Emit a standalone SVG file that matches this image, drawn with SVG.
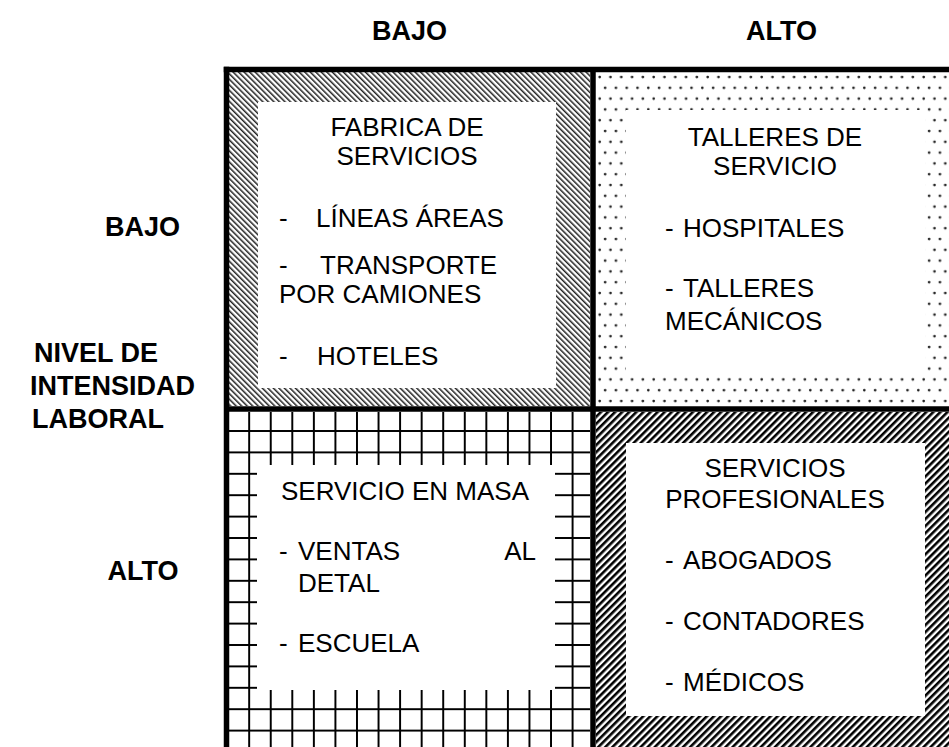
<svg xmlns="http://www.w3.org/2000/svg" width="949" height="747" viewBox="0 0 949 747">
<style>
.h{font-family:"Liberation Sans",Arial,sans-serif;font-size:27px;font-weight:bold;fill:#000}
.t{font-family:"Liberation Sans",Arial,sans-serif;font-size:26px;fill:#000}
.c{text-anchor:middle}
.frame{stroke:#000;stroke-width:5.5;fill:none}
.box{fill:#fff}
</style>
<defs>
<pattern id="hatchTL" patternUnits="userSpaceOnUse" width="3.9" height="20" patternTransform="rotate(-45)">
<rect x="0" y="0" width="3.9" height="20" fill="#fff"/>
<rect x="0" y="0" width="1.5" height="20" fill="#222"/>
</pattern>
<pattern id="hatchBR" patternUnits="userSpaceOnUse" width="5" height="20" patternTransform="rotate(45)">
<rect x="0" y="0" width="5" height="20" fill="#fff"/>
<rect x="0" y="0" width="2.6" height="20" fill="#000"/>
</pattern>
<pattern id="dots" patternUnits="userSpaceOnUse" x="597" y="74" width="10.8" height="21.6">
<rect x="0" y="0" width="10.8" height="21.6" fill="#fff"/>
<circle cx="2.7" cy="3" r="1.35" fill="#222"/>
<circle cx="8.1" cy="13.8" r="1.35" fill="#222"/>
</pattern>
<pattern id="grid" patternUnits="userSpaceOnUse" x="238.4" y="420.3" width="21.56" height="21.4">
<rect x="0" y="0" width="21.56" height="21.4" fill="#fff"/>
<line x1="10.78" y1="0" x2="10.78" y2="21.4" stroke="#000" stroke-width="2"/>
<line x1="0" y1="10.7" x2="21.56" y2="10.7" stroke="#000" stroke-width="2"/>
</pattern>
</defs>
<rect width="949" height="747" fill="#fff"/>

<g id="headers">
<text class="h c" x="409.5" y="40">BAJO</text>
<text class="h c" x="781.5" y="40">ALTO</text>
<text class="h c" x="142.5" y="236">BAJO</text>
<text class="h" x="34" y="362">NIVEL DE</text>
<text class="h" x="30" y="395">INTENSIDAD</text>
<text class="h" x="32" y="428">LABORAL</text>
<text class="h c" x="143" y="580">ALTO</text>
</g>

<g id="q-tl">
<rect x="229" y="72" width="361" height="334" fill="url(#hatchTL)"/>
<rect class="box" x="258" y="102" width="298" height="286"/>
<text class="t c" x="407" y="136">FABRICA DE</text>
<text class="t c" x="407" y="165">SERVICIOS</text>
<text class="t" x="279" y="227">-</text>
<text class="t" x="316" y="227">LÍNEAS ÁREAS</text>
<text class="t" x="279" y="274">-</text>
<text class="t" x="320" y="274">TRANSPORTE</text>
<text class="t" x="279" y="303">POR CAMIONES</text>
<text class="t" x="279" y="365">-</text>
<text class="t" x="317" y="365">HOTELES</text>
</g>

<g id="q-tr">
<rect x="596" y="72" width="353" height="334" fill="url(#dots)"/>
<rect class="box" x="626" y="110" width="299" height="263"/>
<text class="t c" x="775" y="146">TALLERES DE</text>
<text class="t c" x="775" y="175">SERVICIO</text>
<text class="t" x="665" y="237">-</text>
<text class="t" x="683" y="237">HOSPITALES</text>
<text class="t" x="665" y="297">-</text>
<text class="t" x="683" y="297">TALLERES</text>
<text class="t" x="665" y="330">MECÁNICOS</text>
</g>

<g id="q-bl">
<rect x="229" y="412" width="361" height="335" fill="url(#grid)"/>
<rect class="box" x="257" y="465" width="298" height="225"/>
<text class="t" x="281" y="500">SERVICIO EN MASA</text>
<text class="t" x="279" y="560">-</text>
<text class="t" x="298" y="560">VENTAS</text>
<text class="t" x="536" y="560" text-anchor="end">AL</text>
<text class="t" x="298" y="592">DETAL</text>
<text class="t" x="279" y="652">-</text>
<text class="t" x="298" y="652">ESCUELA</text>
</g>

<g id="q-br">
<rect x="596" y="412" width="353" height="335" fill="url(#hatchBR)"/>
<rect class="box" x="626" y="443" width="299" height="273"/>
<text class="t c" x="775" y="477">SERVICIOS</text>
<text class="t c" x="775" y="508">PROFESIONALES</text>
<text class="t" x="665" y="569">-</text>
<text class="t" x="683" y="569">ABOGADOS</text>
<text class="t" x="665" y="630">-</text>
<text class="t" x="683" y="630">CONTADORES</text>
<text class="t" x="665" y="691">-</text>
<text class="t" x="683" y="691">MÉDICOS</text>
</g>

<g id="connectors">
<line class="frame" x1="223.75" y1="69.5" x2="949" y2="69.5"/>
<line class="frame" x1="226.5" y1="66.75" x2="226.5" y2="747"/>
<line class="frame" x1="593" y1="69.5" x2="593" y2="747"/>
<line class="frame" x1="226.5" y1="409" x2="949" y2="409"/>
</g>
</svg>
